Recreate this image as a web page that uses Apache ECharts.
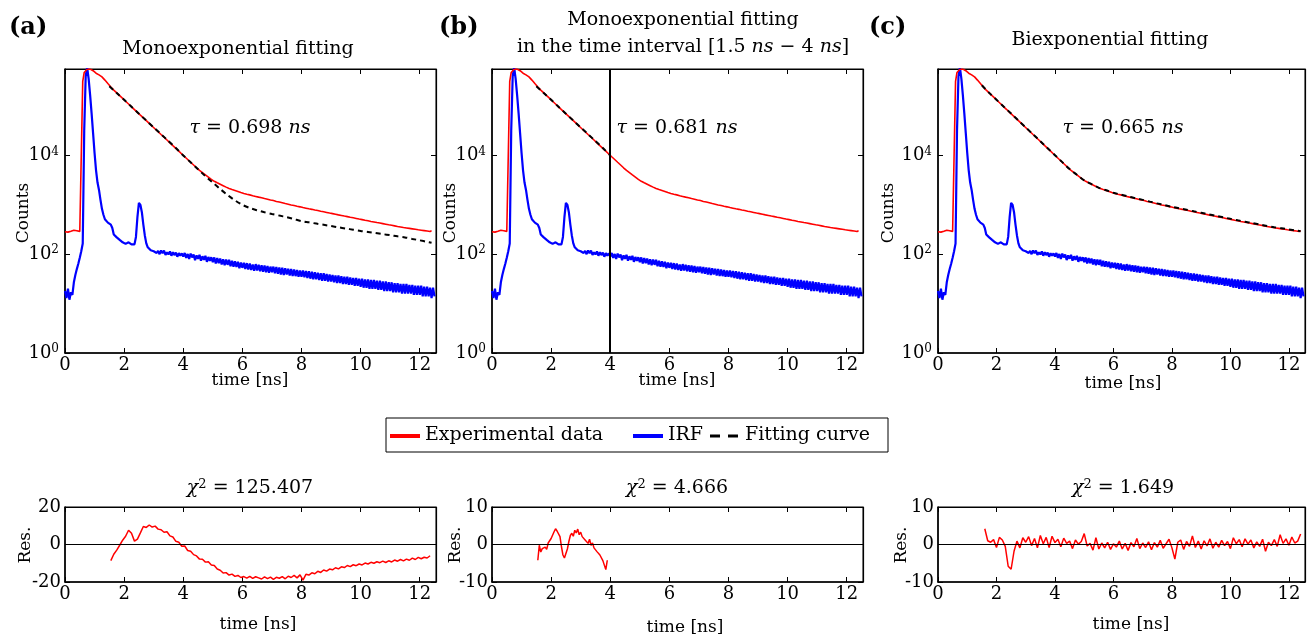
<!DOCTYPE html>
<html>
<head>
<meta charset="utf-8">
<script src="https://cdn.jsdelivr.net/npm/echarts@6/dist/echarts.min.js"></script>
<style>
  html, body { margin: 0; padding: 0; background: #fff; }
  #chart { width: 1308px; height: 638px; }
</style>
</head>
<body>
<div id="chart"></div>
<script>
// Histogram bin width of the decay traces (ns)
const BIN_NS = 0.05;

// Fluorescence decay, counts per bin, from t = 0 ns
const experimental = [
  285,310,280,300,292,275,305,283,298,278,290,302,
  316000,479000,525000,556000,562000,560000,543000,519000,490000,462000,442000,427000,412000,389000,363000,335000,309000,285000,263000,243000,224000,210000,197000,185000,173000,162000,152000,143000,134000,
  125000,118500,110000,104200,96500,91500,84900,80600,74600,70800,65500,62200,57600,54700,50500,48000,44400,42200,39000,37100,
  34300,32700,30200,28700,26500,25200,23300,22200,20500,19400,18000,17100,15800,15000,13900,13200,12200,11600,10700,10150,
  9400,8920,8280,7840,7270,6890,6400,6060,5620,5330,4990,4790,4490,4310,4040,3870,3640,3490,3270,3140,
  2990,2930,2790,2740,2610,2560,2440,2390,2280,2230,2140,2130,2040,2030,1950,1940,1860,1860,1770,1770,
  1700,1720,1640,1670,1590,1610,1530,1560,1480,1510,1430,1460,1390,1420,1340,1370,1300,1330,1250,1290,
  1220,1250,1170,1210,1140,1170,1100,1130,1060,1100,1030,1060,995,1025,965,995,935,965,910,935,
  880,905,855,885,830,860,810,835,785,815,765,790,742,770,722,748,702,728,682,708,
  664,688,645,668,626,650,610,632,592,615,576,597,560,581,545,565,530,549,515,534,
  501,519,487,505,474,492,461,479,450,467,438,455,427,443,416,432,405,421,394,410,
  385,399,375,389,365,379,356,370,347,361,340,354,333,347,326,340,319,333,312,325,
  306,318,300,312,294,306,288,300
];

// Instrument response function, counts per bin, from t = 0 ns
const irf = [
  18,13,20,12,17,15,27,38,50,64,85,115,165,
  31600,400000,600000,355000,166000,70800,28200,11200,5000,2820,2000,1260,830,630,510,470,436,417,398,339,251,229,219,209,195,186,174,166,162,155,174,186,158,151,158,224,562,1100,1000,708,398,240,166,138,126,120,117,115,
  124,106,117,100,119,105,118,97,109,99,114,93,110,96,108,89,105,93,104,90,
  106,84,101,80,103,86,99,76,95,81,97,74,91,77,93,70,88,73,87,69,
  86,65,84,66,82,62,79,60,78,61,77,57,74,56,72,55,70,52,68,53,
  67,50,66,49,65,48,62,46,63,47,61,45,60,44,59,43,58,42,56,43,
  56,41,55,40,54,39,53,38,52,39,51,37,50,36,49,36,48,35,47,35,
  47,34,46,33,45,32,44,31,43,31,42,30,41,29,41,29,40,28,39,28,
  38,27,37,26,37,26,36,25,35,25,35,24,34,24,33,23,33,23,32,22,
  32,21,31,21,31,20,30,20,30,20,29,19,29,19,28,18,28,18,27,18,
  27,17,26,17,26,17,25,16,25,16,25,16,24,16,24,15,23,15,23,15,
  23,14,22,14,22,14,21,13,21,14
];

// Fitted model curves (ns, counts)
const fitTime = [1.5,1.75,2,2.25,2.5,2.75,3,3.25,3.5,3.75,4,4.25,4.5,4.75,5,5.25,5.5,5.75,6,6.25,6.5,6.75,7,7.25,7.5,7.75,8,8.25,8.5,8.75,9,9.25,9.5,9.75,10,10.25,10.5,10.75,11,11.25,11.5,11.75,12,12.25,12.4];
const fitMono = [251000,184500,133700,96800,70100,50800,36800,26900,19500,14100,10000,7240,5250,3800,2820,2090,1580,1230,1000,861,776,708,653,605,562,513,468,442,417,394,372,351,331,313,295,282,269,255,243,230,219,204,191,178,170];
const fitMonoWindow = [251000,184500,133700,96800,70100,50800,36800,26900,19500,14100,10000];
const fitBi = [263000,184500,134000,97000,70300,50900,36900,26700,19300,14000,10100,7310,5300,4060,3120,2620,2210,1970,1750,1610,1480,1360,1260,1160,1070,990,912,850,793,739,689,642,599,558,520,486,455,426,399,374,352,334,317,301,292];

// Weighted residuals
const residualMonoStart = 1.55, residualMonoStep = 0.1;
const residualMono = [
  -8.6,-5.2,-3.0,-0.4,2.3,4.4,7.6,6.0,1.8,2.9,
  6.2,9.6,9.1,10.4,9.3,9.8,8.2,7.9,6.5,6.8,
  4.6,4.0,1.7,1.2,-0.9,-0.8,-3.2,-3.6,-5.4,-6.1,
  -7.8,-7.9,-9.4,-9.2,-10.9,-11.2,-13.1,-13.7,-15.2,-15.0,
  -16.3,-15.8,-17.0,-16.5,-17.6,-17.1,-17.9,-17.0,-18.1,-17.2,
  -17.8,-18.4,-17.3,-18.2,-17.4,-18.6,-17.5,-18.0,-17.1,-18.3,
  -16.9,-17.6,-16.5,-17.8,-16.2,-19.0,-15.9,-16.3,-15.1,-15.6,
  -14.3,-14.9,-13.6,-14.2,-13.1,-13.5,-12.4,-13.0,-11.9,-12.3,
  -11.2,-11.8,-10.8,-11.3,-10.4,-10.9,-9.9,-10.4,-9.5,-10.0,
  -9.2,-9.7,-8.9,-9.6,-8.7,-9.3,-8.3,-8.9,-8.0,-8.7,
  -7.8,-8.4,-7.3,-8.0,-6.9,-7.6,-6.8,-7.2,-6.0
];
const residualWindowStart = 1.55, residualWindowStep = 0.05;
const residualWindow = [
  -4.2,-0.2,-2.0,-1.1,-1.6,-0.7,-1.3,0.4,0.9,1.6,
  1.9,3.4,4.2,3.6,3.9,2.1,-0.6,-2.8,-3.6,-3.1,
  -1.2,0.8,2.4,3.0,2.2,3.8,3.1,4.1,2.6,3.3,
  2.1,2.4,1.2,1.6,0.3,1.4,-0.2,0.4,-0.9,-0.5,
  -1.9,-1.4,-2.8,-2.5,-4.3,-4.6,-6.7,-4.2
];
const residualBiStart = 1.6, residualBiStep = 0.1;
const residualBi = [
  4.2,1.0,0.6,1.3,-0.8,1.9,1.2,-0.5,-5.8,-6.6,
  -1.8,0.9,-0.9,1.8,0.6,2.1,-0.3,1.6,-0.9,2.4,
  0.2,1.9,-0.8,2.2,0.5,1.4,-0.6,1.7,0.3,0.9,
  -1.1,1.2,0.1,0.8,2.9,-0.4,0.3,-1.5,1.8,-1.2,
  0.4,-0.9,0.6,-1.3,0.2,-0.7,0.9,-1.2,0.3,-1.6,
  0.5,-0.6,1.6,-1.1,0.4,-0.8,0.7,-1.4,0.5,-0.7,
  1.1,-1.0,0.2,1.4,-0.9,-3.9,0.6,1.2,-1.3,0.8,
  -0.5,2.3,-0.8,0.9,-1.2,1.0,-0.4,1.5,-1.0,0.6,
  -0.7,1.1,-0.3,0.8,-1.1,1.8,0.2,1.3,-0.6,1.5,
  0.1,1.2,-0.9,0.7,-0.5,1.4,-1.8,0.6,-0.3,1.3,
  -0.5,2.6,0.3,1.5,-0.2,2.0,0.4,0.9,2.8
];

// Axis ticks and labels
const timeTicks = [0, 2, 4, 6, 8, 10, 12];
const countDecades = [0, 2, 4];
const residualTicksMono = [-20, 0, 20];
const residualTicksOther = [-10, 0, 10];

const panelLetters = ['(a)', '(b)', '(c)'];
const tauValues = ['0.698', '0.681', '0.665'];
const chiValues = ['125.407', '4.666', '1.649'];
const legendNames = ['Experimental data', 'IRF', 'Fitting curve'];

// ---------------------------------------------------------------------------
const SERIF = '"DejaVu Serif", "Liberation Serif", serif';
const RED = '#ff0000', BLUE = '#0000ff';
const T_MAX = 12.55;
const COUNT_MAX = 562000;
const PANEL_LEFT = [65, 492, 938];
const PANEL_W = 371;

const binned = arr => arr.map((v, i) => [+(i * BIN_NS).toFixed(2), v]);
const stepped = (arr, start, step) => arr.map((v, i) => [+(start + i * step).toFixed(2), v]);
const paired = (t, arr) => arr.map((v, i) => [t[i], v]);

const expData = binned(experimental);
const irfData = binned(irf);
const fits = [paired(fitTime, fitMono), paired(fitTime, fitMonoWindow), paired(fitTime, fitBi)];
const residuals = [
  stepped(residualMono, residualMonoStart, residualMonoStep),
  stepped(residualWindow, residualWindowStart, residualWindowStep),
  stepped(residualBi, residualBiStart, residualBiStep)
];

const grids = [], xAxes = [], yAxes = [], series = [];

function timeAxes(gi) {
  const lbl = v => timeTicks.some(t => Math.abs(t - v) < 1e-6) ? String(Math.round(v)) : '';
  xAxes.push({
    gridIndex: gi, type: 'value', min: 0, max: T_MAX, interval: 2, position: 'bottom',
    axisLine: { show: true, onZero: false, lineStyle: { color: '#000', width: 1.6 } },
    axisTick: { show: true, inside: true, length: 5, lineStyle: { color: '#000', width: 1 } },
    axisLabel: { color: '#000', fontFamily: SERIF, fontSize: 18, margin: 3, formatter: lbl },
    splitLine: { show: false }
  });
  xAxes.push({
    gridIndex: gi, type: 'value', min: 0, max: T_MAX, interval: 2, position: 'top',
    axisLine: { show: true, onZero: false, lineStyle: { color: '#000', width: 1.2 } },
    axisTick: { show: true, inside: true, length: 5, lineStyle: { color: '#000', width: 1 } },
    axisLabel: { show: false }, splitLine: { show: false }
  });
}

function countAxes(gi) {
  const common = {
    gridIndex: gi, type: 'log', logBase: 100, min: 1, max: COUNT_MAX,
    splitLine: { show: false }, minorTick: { show: false }
  };
  yAxes.push(Object.assign({}, common, {
    position: 'left',
    axisLine: { show: true, onZero: false, lineStyle: { color: '#000', width: 1.6 } },
    axisTick: { show: true, inside: true, length: 5, lineStyle: { color: '#000' } },
    axisLabel: {
      color: '#000', margin: 6,
      formatter: v => {
        const e = Math.log10(v), r = Math.round(e);
        return (Math.abs(e - r) < 1e-6 && countDecades.includes(r)) ? '{b|10}{s|' + r + '}' : '';
      },
      rich: {
        b: { fontFamily: SERIF, fontSize: 18, color: '#000', lineHeight: 20 },
        s: { fontFamily: SERIF, fontSize: 12, color: '#000', verticalAlign: 'top', lineHeight: 12 }
      }
    }
  }));
  yAxes.push(Object.assign({}, common, {
    position: 'right',
    axisLine: { show: true, onZero: false, lineStyle: { color: '#000', width: 1.2 } },
    axisTick: { show: true, inside: true, length: 5, lineStyle: { color: '#000' } },
    axisLabel: { show: false }
  }));
}

function residualAxes(gi, ticks) {
  const lim = ticks[ticks.length - 1];
  const common = {
    gridIndex: gi, type: 'value', min: -lim, max: lim, interval: lim, splitLine: { show: false }
  };
  yAxes.push(Object.assign({}, common, {
    position: 'left',
    axisLine: { show: true, onZero: false, lineStyle: { color: '#000', width: 1.6 } },
    axisTick: { show: true, inside: true, length: 5, lineStyle: { color: '#000' } },
    axisLabel: {
      color: '#000', fontFamily: SERIF, fontSize: 18, margin: 4,
      formatter: v => ticks.includes(v) ? String(v) : ''
    }
  }));
  yAxes.push(Object.assign({}, common, {
    position: 'right',
    axisLine: { show: true, onZero: false, lineStyle: { color: '#000', width: 1.2 } },
    axisTick: { show: true, inside: true, length: 5, lineStyle: { color: '#000' } },
    axisLabel: { show: false }
  }));
}

// Decay panels
for (let p = 0; p < 3; p++) {
  const gi = grids.length;
  grids.push({ left: PANEL_LEFT[p], top: 69, width: PANEL_W, height: 284, show: true, borderColor: '#000', borderWidth: 1 });
  timeAxes(gi);
  countAxes(gi);
  const ax = { xAxisIndex: 2 * gi, yAxisIndex: 2 * gi };
  series.push(Object.assign({
    name: legendNames[1], type: 'line', data: irfData, showSymbol: false, symbol: 'none',
    lineStyle: { color: BLUE, width: 2.2 }, itemStyle: { color: BLUE }, z: 2
  }, ax));
  series.push(Object.assign({
    name: legendNames[0], type: 'line', data: expData, showSymbol: false, symbol: 'none',
    lineStyle: { color: RED, width: 1.6 }, itemStyle: { color: RED }, z: 3
  }, ax));
  const fit = Object.assign({
    name: legendNames[2], type: 'line', data: fits[p], showSymbol: false, symbol: 'none',
    smooth: 0.3, lineStyle: { color: '#000', width: 2, type: [5, 4] }, itemStyle: { color: '#000' }, z: 4
  }, ax);
  if (p === 1) {
    fit.markLine = {
      silent: true, symbol: 'none', label: { show: false },
      lineStyle: { color: '#000', width: 2, type: 'solid' },
      data: [{ xAxis: 4 }]
    };
  }
  series.push(fit);
}

// Residual panels
for (let p = 0; p < 3; p++) {
  const gi = grids.length;
  grids.push({ left: PANEL_LEFT[p], top: 507, width: PANEL_W, height: 75, show: true, borderColor: '#000', borderWidth: 1 });
  timeAxes(gi);
  residualAxes(gi, p === 0 ? residualTicksMono : residualTicksOther);
  series.push({
    type: 'line', xAxisIndex: 2 * gi, yAxisIndex: 2 * gi, data: residuals[p],
    showSymbol: false, symbol: 'none', lineStyle: { color: RED, width: 1.5 }, z: 3,
    markLine: {
      silent: true, symbol: 'none', label: { show: false },
      lineStyle: { color: '#000', width: 1, type: 'solid' },
      data: [{ yAxis: 0 }]
    }
  });
}

// Text annotations
const richMath = {
  i: { fontFamily: SERIF, fontSize: 19, fontStyle: 'italic', color: '#000' },
  n: { fontFamily: SERIF, fontSize: 19, color: '#000' },
  s: { fontFamily: SERIF, fontSize: 13, color: '#000', verticalAlign: 'top', lineHeight: 13 }
};
function label(x, y, text, extra) {
  return Object.assign({
    type: 'text', x: x, y: y, z: 50,
    style: Object.assign({
      text: text, fill: '#000', fontFamily: SERIF, fontSize: 19,
      align: 'center', verticalAlign: 'middle', rich: richMath
    }, (extra && extra.style) || {})
  }, extra ? { rotation: extra.rotation || 0 } : {});
}

const centers = PANEL_LEFT.map(l => l + 185);
const graphics = [];
for (let p = 0; p < 3; p++) {
  graphics.push(label([9, 439, 869][p], 28, panelLetters[p], { style: { align: 'left', fontSize: 24, fontWeight: 'bold' } }));
  graphics.push(label(centers[p], 128, '{i|τ}{n| = ' + tauValues[p] + ' }{i|ns}'));
  graphics.push(label(centers[p], 488, '{i|χ}{s|2}{n| = ' + chiValues[p] + '}'));
  graphics.push(label(centers[p], [381, 381, 384][p], 'time [ns]', { style: { fontSize: 17 } }));
  graphics.push(label(centers[p] + 8, [625, 628, 625][p], 'time [ns]', { style: { fontSize: 17 } }));
  graphics.push(label([24, 451, 889][p], 213, 'Counts', { rotation: Math.PI / 2, style: { fontSize: 17 } }));
  graphics.push(label([26, 456, 902][p], 545, 'Res.', { rotation: Math.PI / 2, style: { fontSize: 17 } }));
}
graphics.push(label(238, 49, 'Monoexponential fitting'));
graphics.push(label(683, 20, 'Monoexponential fitting'));
graphics.push(label(683, 47, '{n|in the time interval [1.5 }{i|ns}{n| − 4 }{i|ns}{n|]}'));
graphics.push(label(1110, 40, 'Biexponential fitting'));

// Legend box
graphics.push({ type: 'rect', z: 40, shape: { x: 386, y: 418, width: 502, height: 34 }, style: { fill: '#fff', stroke: '#000', lineWidth: 1 } });
graphics.push({ type: 'line', z: 41, shape: { x1: 390, y1: 436, x2: 420, y2: 436 }, style: { stroke: RED, lineWidth: 4 } });
graphics.push(label(425, 435, legendNames[0], { style: { align: 'left' } }));
graphics.push({ type: 'line', z: 41, shape: { x1: 633, y1: 436, x2: 663, y2: 436 }, style: { stroke: BLUE, lineWidth: 4 } });
graphics.push(label(668, 435, legendNames[1], { style: { align: 'left' } }));
graphics.push({ type: 'line', z: 41, shape: { x1: 710, y1: 436, x2: 738, y2: 436 }, style: { stroke: '#000', lineWidth: 3, lineDash: [10, 8] } });
graphics.push(label(745, 435, legendNames[2], { style: { align: 'left' } }));

const chart = echarts.init(document.getElementById('chart'), null, { renderer: 'canvas' });
chart.setOption({
  animation: false,
  backgroundColor: '#fff',
  textStyle: { fontFamily: SERIF },
  grid: grids,
  xAxis: xAxes,
  yAxis: yAxes,
  series: series,
  graphic: graphics
});
</script>
</body>
</html>
